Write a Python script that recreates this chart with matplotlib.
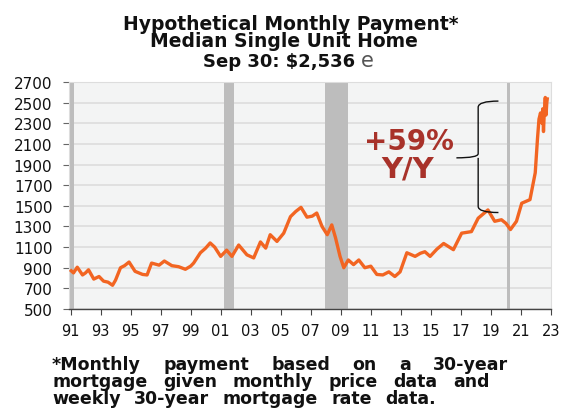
import matplotlib
matplotlib.use("Agg")
import matplotlib.pyplot as plt
from matplotlib.path import Path
from matplotlib.patches import PathPatch

plt.rcParams['font.family'] = ['DejaVu Sans']

# ---- data ----
years = [1991.05, 1991.2, 1991.45, 1991.8, 1992.0, 1992.2, 1992.55, 1992.9, 1993.2, 1993.5,
         1993.8, 1994.0, 1994.33, 1994.6, 1994.9, 1995.3, 1995.8, 1996.1, 1996.4, 1996.9,
         1997.25, 1997.75, 1998.2, 1998.65, 1999.0, 1999.2, 1999.65, 2000.0, 2000.3, 2000.6,
         2001.0, 2001.4, 2001.75, 2002.2, 2002.75, 2003.2, 2003.65, 2004.0, 2004.3, 2004.75,
         2005.2, 2005.65, 2006.0, 2006.35, 2006.75, 2007.1, 2007.4, 2007.75, 2008.1, 2008.4,
         2008.65, 2008.95, 2009.2, 2009.5, 2009.85, 2010.2, 2010.6, 2011.0, 2011.4, 2011.8,
         2012.2, 2012.6, 2012.95, 2013.4, 2013.95, 2014.3, 2014.6, 2014.95, 2015.4, 2015.85,
         2016.5, 2017.05, 2017.7, 2018.15, 2018.8, 2019.25, 2019.7, 2020.0, 2020.3, 2020.7,
         2021.05, 2021.6, 2021.95, 2022.1, 2022.2, 2022.3, 2022.4, 2022.45, 2022.5, 2022.55,
         2022.62, 2022.67, 2022.72, 2022.75]
payment = [870, 850, 905, 830, 850, 880, 790, 815, 770, 760,
           730, 780, 900, 920, 955, 865, 835, 830, 945, 925,
           965, 920, 910, 885, 915, 945, 1045, 1090, 1140, 1100,
           1010, 1070, 1010, 1120, 1025, 995, 1150, 1090, 1220, 1155,
           1235, 1395, 1445, 1485, 1390, 1400, 1430, 1300, 1220, 1315,
           1190, 1010, 900, 975, 930, 975, 900, 915, 835, 830,
           860, 815, 860, 1045, 1010, 1040, 1055, 1010, 1080, 1135,
           1075, 1235, 1250, 1380, 1460, 1350, 1365, 1330, 1270, 1350,
           1525, 1560, 1820, 2150, 2340, 2400, 2300, 2440, 2220, 2400,
           2550, 2380, 2500, 2536]

recessions = [(1990.9, 1991.22), (2001.2, 2001.9), (2007.92, 2009.5), (2020.1, 2020.3)]
yticks = list(range(500, 2701, 200))
xtick_years = list(range(1991, 2024, 2))
xtick_labels = [f"{y % 100:02d}" for y in xtick_years]

# ---- figure ----
fig = plt.figure(figsize=(5.63, 4.10), dpi=100)
ax = fig.add_axes([69/563, 1-310/410, (551-69)/563, (310-83)/410])
ax.set_facecolor('#f3f4f4')

for a, b in recessions:
    ax.axvspan(a, b, color='#bdbdbd', lw=0, zorder=1)

ax.set_ylim(500, 2700)
ax.set_xlim(1990.9, 2023.0)
ax.set_yticks(yticks)
ax.set_xticks(xtick_years)
ax.set_xticklabels(xtick_labels)
ax.yaxis.grid(True, color='#dedede', lw=1.3, zorder=0)
ax.set_axisbelow(True)

ax.plot(years, payment, color='#f26522', lw=2.4, zorder=3)

for s in ['top', 'right', 'left']:
    ax.spines[s].set_color('#dddddd')
    ax.spines[s].set_linewidth(0.8)
ax.spines['bottom'].set_color('#444444')
ax.spines['bottom'].set_linewidth(1.0)
ax.tick_params(axis='y', length=4, color='#666666', labelsize=11, pad=8, labelcolor='#111111')
ax.tick_params(axis='x', length=4, color='#444444', labelsize=10.5, pad=6, labelcolor='#111111')

# ---- brace annotation ----
xv, xr, xt = 2018.15, 2019.5, 2016.7
ytop, ybot, ymid = 2515, 1435, 1965
verts = [(xr, ytop), (xv, ytop), (xv, ytop - 60),
         (xv, ymid + 40),
         (xv, ymid), (xt, ymid),
         (xv, ymid), (xv, ymid - 40),
         (xv, ybot + 60),
         (xv, ybot), (xr, ybot)]
codes = [Path.MOVETO, Path.CURVE3, Path.CURVE3,
         Path.LINETO,
         Path.CURVE3, Path.CURVE3,
         Path.MOVETO, Path.LINETO,
         Path.LINETO,
         Path.CURVE3, Path.CURVE3]
ax.add_patch(PathPatch(Path(verts, codes), fill=False, ec='#111111', lw=1.0, zorder=4))

# annotation text (positions in figure pixels)
fig.text(409/563, 1-139.5/410, "+59%", color='#a8322a', fontsize=20, fontweight='bold',
         ha='center', va='center_baseline', zorder=5)
fig.text(408/563, 1-167/410, "Y/Y", color='#a8322a', fontsize=21, fontweight='bold',
         ha='center', va='center_baseline', zorder=5)

# ---- titles ----
fig.text(291/563, 1-29.5/410, "Hypothetical Monthly Payment*", ha='center', va='baseline',
         fontsize=13.5, fontweight='bold', color='#111111')
fig.text(284/563, 1-47/410, "Median Single Unit Home", ha='center', va='baseline',
         fontsize=13.5, fontweight='bold', color='#111111')
fig.text(355/563, 1-67/410, "Sep 30: $2,536", ha='right', va='baseline',
         fontsize=13, fontweight='bold', color='#111111')
fig.text(361/563, 1-67/410, "e", ha='left', va='baseline',
         fontsize=15, color='#555555')

# ---- footnote (words spread to the reference line widths) ----
foot = ["*Monthly payment based on a 30-year",
        "mortgage given monthly price data and",
        "weekly 30-year mortgage rate data."]
right_edges = [508, 490, 436]
left = 52
fig.canvas.draw()
renderer = fig.canvas.get_renderer()
for i, line in enumerate(foot):
    ybase = 1 - (370 + 17.2 * i) / 410
    words = line.split(' ')
    texts = [fig.text(0, ybase, w, ha='left', va='baseline', fontsize=12.5,
                      fontweight='bold', color='#111111') for w in words]
    widths = [t.get_window_extent(renderer).width for t in texts]
    gap = (right_edges[i] - left - sum(widths)) / (len(words) - 1)
    x = left
    for t, w in zip(texts, widths):
        t.set_x(x / 563)
        x += w + gap

fig.savefig("out.png", dpi=100)
